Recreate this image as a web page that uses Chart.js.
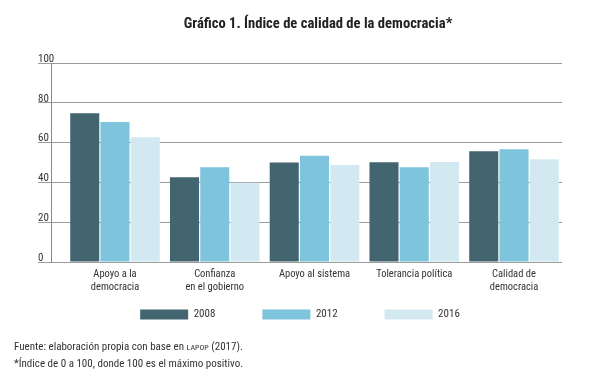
<!DOCTYPE html>
<html>
<head>
<meta charset="utf-8">
<script src="https://cdn.jsdelivr.net/npm/chart.js@4/dist/chart.umd.min.js"></script>
<style>
  html, body { margin:0; padding:0; background:#fff; }
  #wrap { position:relative; width:600px; height:376px; overflow:hidden;
          font-family:"Roboto Condensed","DejaVu Sans Condensed",sans-serif; }
  canvas { position:absolute; left:0; top:0; }
  #title { position:absolute; left:118px; width:400px; top:14px; text-align:center;
           font-weight:bold; font-size:14.6px; line-height:18px; color:#222; }
  #notes { position:absolute; left:14px; top:339px; font-size:11px; line-height:15.5px; color:#333; }
  .sc { font-size:8px; }
</style>
</head>
<body>
<div id="wrap">
  <canvas id="c" width="600" height="376"></canvas>
  <div id="title">Gráfico 1. Índice de calidad de la democracia*</div>
  <div id="notes">Fuente: elaboración propia con base en <span class="sc">LAPOP</span> (2017).<br>*Índice de 0 a 100, donde 100 es el máximo positivo.</div>
</div>
<script>
const categories = [
  ["Apoyo a la", "democracia"],
  ["Confianza", "en el gobierno"],
  "Apoyo al sistema",
  "Tolerancia política",
  ["Calidad de", "democracia"]
];
const years = ["2008", "2012", "2016"];
const values2008 = [74.7, 42.6, 50, 50.1, 55.6];
const values2012 = [70.4, 47.6, 53.4, 47.6, 56.6];
const values2016 = [62.7, 39.8, 48.7, 50.2, 51.6];
const yTicks = [0, 20, 40, 60, 80, 100];

const colors = ["#42656f", "#7ec4dc", "#d3e9f1"];
const FONT = "'Roboto Condensed','DejaVu Sans Condensed',sans-serif";
const seriesList = [values2008, values2012, values2016];

const datasets = seriesList.map((vals, k) => ({
  label: years[k],
  data: vals.map((v, i) => ({ x: i, y: v })),
  backgroundColor: colors[k],
  borderWidth: 0,
  categoryPercentage: 0.91,
  barPercentage: 0.96
}));

new Chart(document.getElementById("c"), {
  type: "bar",
  data: { datasets },
  options: {
    responsive: false,
    animation: false,
    devicePixelRatio: 1,
    layout: { padding: { left: 38, right: 38, top: 63, bottom: 46 } },
    plugins: {
      title: { display: false },
      tooltip: { enabled: false },
      legend: {
        position: "bottom",
        labels: {
          boxWidth: 48, boxHeight: 10, padding: 47,
          color: "#333",
          font: { family: FONT, size: 11 }
        }
      }
    },
    scales: {
      x: {
        type: "linear",
        offset: false,
        min: -0.6416,
        max: 4.4812,
        afterBuildTicks: (scale) => { scale.ticks = categories.map((_, i) => ({ value: i })); },
        afterFit: (scale) => { scale.height = 0; },
        grid: { display: false, drawTicks: false, offset: false },
        border: { display: false },
        ticks: {
          mirror: true, autoSkip: false, maxRotation: 0, padding: -19,
          color: "#333",
          font: { family: FONT, size: 10.5, lineHeight: 1.27 },
          callback: (v) => categories[v]
        }
      },
      y: {
        min: 0, max: 100,
        afterBuildTicks: (scale) => { scale.ticks = yTicks.map(v => ({ value: v })); },
        afterFit: (scale) => { scale.width = 13; },
        grid: { color: "#9c9c9c", lineWidth: 1, drawTicks: true, tickLength: 13 },
        border: { display: true, color: "#888888", width: 1 },
        ticks: {
          mirror: true, padding: -13, labelOffset: -4,
          color: "#333",
          font: { family: FONT, size: 11 }
        }
      }
    }
  }
});
</script>
</body>
</html>
